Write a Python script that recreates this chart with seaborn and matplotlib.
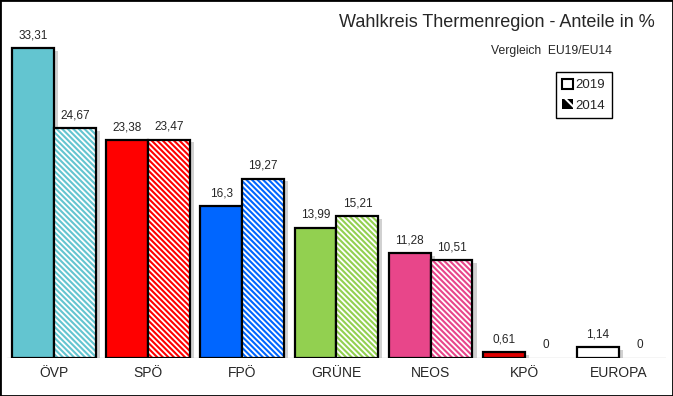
import matplotlib
matplotlib.use("Agg")
import matplotlib.pyplot as plt
import matplotlib.patheffects as pe
from matplotlib.patches import Rectangle, Patch
import seaborn as sns
import pandas as pd

parteien = ['ÖVP', 'SPÖ', 'FPÖ', 'GRÜNE', 'NEOS', 'KPÖ', 'EUROPA']
werte_2019 = [33.31, 23.38, 16.3, 13.99, 11.28, 0.61, 1.14]
werte_2014 = [24.67, 23.47, 19.27, 15.21, 10.51, 0, 0]
farben = ['#63C5D0', '#FF0000', '#0066FF', '#92D050', '#E8468A', '#E00000', '#FFFFFF']
jahre = ['2019', '2014']

df = pd.DataFrame({
    'Partei': parteien * 2,
    'Jahr': ['2019'] * len(parteien) + ['2014'] * len(parteien),
    'Anteil': werte_2019 + werte_2014,
})

sns.set_style("white")
plt.rcParams['font.family'] = ['Liberation Sans', 'DejaVu Sans']
plt.rcParams['hatch.linewidth'] = 1.5

fig = plt.figure(figsize=(6.73, 3.96), dpi=100)
ax = fig.add_axes([0.0104, 0.096, 0.979, 0.879])

sns.barplot(data=df, x='Partei', y='Anteil', hue='Jahr', hue_order=jahre,
            order=parteien, width=0.89, gap=0, legend=False, ax=ax)

schatten = [pe.SimplePatchShadow(offset=(3, -2), shadow_rgbFace='#999999', alpha=0.45), pe.Normal()]
n = len(parteien)
for i, bar in enumerate(ax.patches[:2 * n]):
    farbe = farben[i % n]
    h = bar.get_height()
    if h == 0:
        bar.set_visible(False)
        continue
    if i < n:
        bar.set_facecolor(farbe)
        bar.set_edgecolor('black')
        bar.set_linewidth(1.6)
        bar.set_path_effects(schatten)
    else:
        # Schatten als eigenes Rechteck, damit die Schraffur nicht mitkopiert wird
        ax.add_patch(Rectangle((bar.get_x(), 0), bar.get_width(), h, facecolor='white',
                               edgecolor='none', path_effects=schatten, zorder=bar.get_zorder() - 0.1))
        bar.set_facecolor('white')
        bar.set_edgecolor(farbe)
        bar.set_hatch('\\' * 6)
        bar.set_linewidth(0)
        ax.add_patch(Rectangle((bar.get_x(), 0), bar.get_width(), h, fill=False,
                               edgecolor='black', linewidth=1.6, zorder=bar.get_zorder() + 0.1))

# Wertebeschriftungen
for i, bar in enumerate(ax.patches[:2 * n]):
    h = bar.get_height()
    txt = f"{h:g}".replace('.', ',')
    ax.annotate(txt, (bar.get_x() + bar.get_width() / 2, h), xytext=(0, 5),
                textcoords='offset points', ha='center', va='bottom', fontsize=8.5,
                family=['Liberation Sans Narrow', 'Liberation Sans', 'DejaVu Sans'])

ax.set_ylim(0, 37.4)
ax.set_xlim(-0.5, n - 0.5)
ax.axhline(0, color='#d0d0d0', lw=1, zorder=0)
ax.set_yticks([])
ax.set_xlabel('')
ax.set_ylabel('')
ax.tick_params(axis='x', length=0, labelsize=10, pad=6)
sns.despine(ax=ax, left=True, bottom=True)

fig.text(0.973, 0.944, 'Wahlkreis Thermenregion - Anteile in %', ha='right', va='center', fontsize=13)
fig.text(0.909, 0.871, 'Vergleich  EU19/EU14', ha='right', va='center', fontsize=8.7)

handles = [Patch(facecolor='white', edgecolor='black', linewidth=1.5),
           Patch(facecolor='black', edgecolor='white', hatch='\\\\', linewidth=0)]
leg = fig.legend(handles, jahre, loc='upper left', bbox_to_anchor=(0.826, 0.818),
                 fontsize=9.5, frameon=True, fancybox=False, handlelength=0.8, handleheight=0.8,
                 handletextpad=0.2, borderpad=0.5, labelspacing=0.6, edgecolor='black',
                 borderaxespad=0)
leg.get_frame().set_linewidth(1)
leg.get_frame().set_alpha(1)

fig.patches.append(Rectangle((0, 0), 1, 1, transform=fig.transFigure, fill=False,
                             edgecolor='black', linewidth=2))

plt.savefig('out.png', dpi=100)
